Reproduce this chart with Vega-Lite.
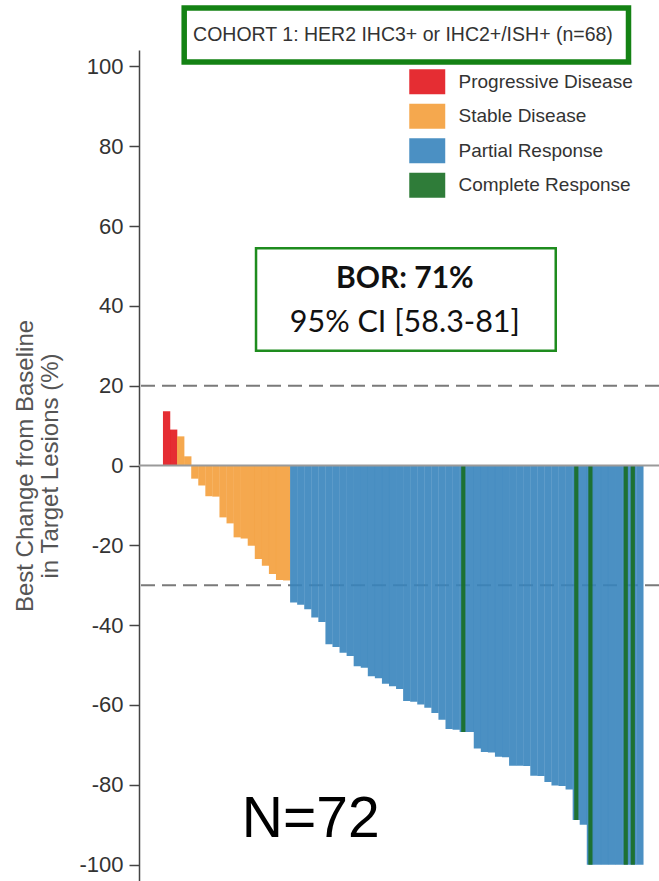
{
  "$schema": "https://vega.github.io/schema/vega-lite/v6.json",
  "width": 520,
  "height": 831,
  "autosize": {"type": "none"},
  "padding": {"left": 139, "top": 50, "right": 0, "bottom": 0},
  "background": "white",
  "config": {"view": {"stroke": null}, "font": "Liberation Sans"},
  "data": {"values": [
    {"patient": 1, "change": 13.6, "response": "Progressive Disease"},
    {"patient": 2, "change": 9.0, "response": "Progressive Disease"},
    {"patient": 3, "change": 7.3, "response": "Stable Disease"},
    {"patient": 4, "change": 2.3, "response": "Stable Disease"},
    {"patient": 5, "change": -3.3, "response": "Stable Disease"},
    {"patient": 6, "change": -5.0, "response": "Stable Disease"},
    {"patient": 7, "change": -7.7, "response": "Stable Disease"},
    {"patient": 8, "change": -7.8, "response": "Stable Disease"},
    {"patient": 9, "change": -13.0, "response": "Stable Disease"},
    {"patient": 10, "change": -14.5, "response": "Stable Disease"},
    {"patient": 11, "change": -18.0, "response": "Stable Disease"},
    {"patient": 12, "change": -18.3, "response": "Stable Disease"},
    {"patient": 13, "change": -20.1, "response": "Stable Disease"},
    {"patient": 14, "change": -23.4, "response": "Stable Disease"},
    {"patient": 15, "change": -25.1, "response": "Stable Disease"},
    {"patient": 16, "change": -27.2, "response": "Stable Disease"},
    {"patient": 17, "change": -28.7, "response": "Stable Disease"},
    {"patient": 18, "change": -28.8, "response": "Stable Disease"},
    {"patient": 19, "change": -34.3, "response": "Partial Response"},
    {"patient": 20, "change": -34.9, "response": "Partial Response"},
    {"patient": 21, "change": -36.0, "response": "Partial Response"},
    {"patient": 22, "change": -38.1, "response": "Partial Response"},
    {"patient": 23, "change": -39.2, "response": "Partial Response"},
    {"patient": 24, "change": -44.8, "response": "Partial Response"},
    {"patient": 25, "change": -45.5, "response": "Partial Response"},
    {"patient": 26, "change": -46.9, "response": "Partial Response"},
    {"patient": 27, "change": -47.7, "response": "Partial Response"},
    {"patient": 28, "change": -50.3, "response": "Partial Response"},
    {"patient": 29, "change": -50.7, "response": "Partial Response"},
    {"patient": 30, "change": -52.8, "response": "Partial Response"},
    {"patient": 31, "change": -53.3, "response": "Partial Response"},
    {"patient": 32, "change": -54.7, "response": "Partial Response"},
    {"patient": 33, "change": -55.3, "response": "Partial Response"},
    {"patient": 34, "change": -56.0, "response": "Partial Response"},
    {"patient": 35, "change": -59.0, "response": "Partial Response"},
    {"patient": 36, "change": -59.2, "response": "Partial Response"},
    {"patient": 37, "change": -59.9, "response": "Partial Response"},
    {"patient": 38, "change": -60.7, "response": "Partial Response"},
    {"patient": 39, "change": -62.0, "response": "Partial Response"},
    {"patient": 40, "change": -63.7, "response": "Partial Response"},
    {"patient": 41, "change": -66.0, "response": "Partial Response"},
    {"patient": 42, "change": -66.2, "response": "Partial Response"},
    {"patient": 43, "change": -66.8, "response": "Complete Response"},
    {"patient": 44, "change": -66.8, "response": "Partial Response"},
    {"patient": 45, "change": -70.9, "response": "Partial Response"},
    {"patient": 46, "change": -71.8, "response": "Partial Response"},
    {"patient": 47, "change": -71.9, "response": "Partial Response"},
    {"patient": 48, "change": -73.0, "response": "Partial Response"},
    {"patient": 49, "change": -73.1, "response": "Partial Response"},
    {"patient": 50, "change": -75.2, "response": "Partial Response"},
    {"patient": 51, "change": -75.2, "response": "Partial Response"},
    {"patient": 52, "change": -75.3, "response": "Partial Response"},
    {"patient": 53, "change": -77.7, "response": "Partial Response"},
    {"patient": 54, "change": -77.8, "response": "Partial Response"},
    {"patient": 55, "change": -79.3, "response": "Partial Response"},
    {"patient": 56, "change": -80.2, "response": "Partial Response"},
    {"patient": 57, "change": -80.3, "response": "Partial Response"},
    {"patient": 58, "change": -81.2, "response": "Partial Response"},
    {"patient": 59, "change": -88.8, "response": "Complete Response"},
    {"patient": 60, "change": -90.0, "response": "Partial Response"},
    {"patient": 61, "change": -100.0, "response": "Complete Response"},
    {"patient": 62, "change": -100.0, "response": "Partial Response"},
    {"patient": 63, "change": -100.0, "response": "Partial Response"},
    {"patient": 64, "change": -100.0, "response": "Partial Response"},
    {"patient": 65, "change": -100.0, "response": "Partial Response"},
    {"patient": 66, "change": -100.0, "response": "Complete Response"},
    {"patient": 67, "change": -100.0, "response": "Complete Response"},
    {"patient": 68, "change": -100.0, "response": "Partial Response"}
  ]},
  "layer": [
    {
      "data": {"values": [{}]},
      "mark": {"type": "rule", "color": "#7a7a7a", "strokeWidth": 2, "strokeDash": [14, 7]},
      "encoding": {
        "y": {"datum": 20, "type": "quantitative", "scale": {"domain": [-104.1, 104.1], "nice": false, "zero": false}}
      }
    },
    {
      "data": {"values": [{}]},
      "mark": {"type": "rule", "color": "#7a7a7a", "strokeWidth": 2, "strokeDash": [14, 7]},
      "encoding": {
        "y": {"datum": -30, "type": "quantitative", "scale": {"domain": [-104.1, 104.1], "nice": false, "zero": false}}
      }
    },
    {
      "mark": {"type": "bar", "width": 7.3, "opacity": 0.9, "orient": "vertical"},
      "encoding": {
        "x": {"field": "patient", "type": "quantitative", "scale": {"domain": [-2.2, 70], "nice": false, "zero": false}, "axis": null},
        "y": {
          "field": "change", "type": "quantitative",
          "scale": {"domain": [-104.1, 104.1], "nice": false, "zero": false},
          "title": ["Best Change from Baseline", "in Target Lesions (%)"],
          "axis": {
            "values": [-100, -80, -60, -40, -20, 0, 20, 40, 60, 80, 100],
            "labelExpr": "'' + datum.value",
            "grid": false,
            "domainColor": "#444444", "domainWidth": 1.5,
            "tickColor": "#444444", "tickWidth": 1.5, "tickSize": 10,
            "labelFont": "Liberation Sans", "labelFontSize": 22, "labelColor": "#333333", "labelPadding": 6,
            "titleFont": "Liberation Sans", "titleFontSize": 24, "titleFontWeight": "normal", "titleColor": "#555555",
            "titlePadding": 16, "titleLineHeight": 25
          }
        },
        "y2": {"datum": 0},
        "color": {
          "condition": {"test": "datum.response === 'Complete Response'", "value": "#3784BD"},
          "field": "response", "type": "nominal",
          "scale": {"domain": ["Progressive Disease", "Stable Disease", "Partial Response", "Complete Response"], "range": ["#E2161D", "#F49F3B", "#3784BD", "#186E24"]},
          "legend": {
            "title": null, "orient": "none", "legendX": 270.75, "legendY": 14.25,
            "symbolType": "M-1.043,-0.725H1.043V0.725H-1.043Z", "symbolSize": 1190, "symbolStrokeWidth": 0, "symbolOpacity": 0.9,
            "labelFont": "Liberation Sans", "labelFontSize": 19, "labelColor": "#333333", "labelOffset": 13.75,
            "rowPadding": 3.5, "padding": 0, "labelLimit": 300
          }
        }
      }
    },
    {
      "transform": [{"filter": "datum.response === 'Complete Response'"}],
      "mark": {"type": "bar", "width": 4.2, "opacity": 0.9, "orient": "vertical"},
      "encoding": {
        "x": {"field": "patient", "type": "quantitative", "scale": {"domain": [-2.2, 70], "nice": false, "zero": false}, "axis": null},
        "y": {"field": "change", "type": "quantitative", "scale": {"domain": [-104.1, 104.1], "nice": false, "zero": false}, "title": ["Best Change from Baseline", "in Target Lesions (%)"]},
        "y2": {"datum": 0},
        "color": {
          "field": "response", "type": "nominal",
          "scale": {"domain": ["Progressive Disease", "Stable Disease", "Partial Response", "Complete Response"], "range": ["#E2161D", "#F49F3B", "#3784BD", "#186E24"]},
          "legend": {
            "title": null, "orient": "none", "legendX": 270.75, "legendY": 14.25,
            "symbolType": "M-1.043,-0.725H1.043V0.725H-1.043Z", "symbolSize": 1190, "symbolStrokeWidth": 0, "symbolOpacity": 0.9,
            "labelFont": "Liberation Sans", "labelFontSize": 19, "labelColor": "#333333", "labelOffset": 13.75,
            "rowPadding": 3.5, "padding": 0, "labelLimit": 300
          }
        }
      }
    },
    {
      "data": {"values": [{}]},
      "mark": {"type": "rule", "color": "#9a9a9a", "strokeWidth": 2},
      "encoding": {
        "y": {"datum": 0, "type": "quantitative", "scale": {"domain": [-104.1, 104.1], "nice": false, "zero": false}}
      }
    },
    {
      "data": {"values": [{}]},
      "mark": {"type": "rect", "fill": null, "stroke": "#148214", "strokeWidth": 5.5},
      "encoding": {
        "x": {"datum": 3.49, "type": "quantitative", "scale": {"domain": [-2.2, 70], "nice": false, "zero": false}, "axis": null},
        "x2": {"datum": 66.39},
        "y": {"datum": 114.6, "type": "quantitative", "scale": {"domain": [-104.1, 104.1], "nice": false, "zero": false}},
        "y2": {"datum": 101.1}
      }
    },
    {
      "data": {"values": [{}]},
      "mark": {"type": "text", "text": "COHORT 1: HER2 IHC3+ or IHC2+/ISH+ (n=68)", "font": "Liberation Sans", "fontSize": 19.5, "color": "#333333", "align": "center", "baseline": "middle"},
      "encoding": {
        "x": {"datum": 34.46, "type": "quantitative", "scale": {"domain": [-2.2, 70], "nice": false, "zero": false}, "axis": null},
        "y": {"datum": 107.86, "type": "quantitative", "scale": {"domain": [-104.1, 104.1], "nice": false, "zero": false}}
      }
    },
    {
      "data": {"values": [{}]},
      "mark": {"type": "rect", "fill": null, "stroke": "#1e8c1e", "strokeWidth": 2.5},
      "encoding": {
        "x": {"datum": 13.66, "type": "quantitative", "scale": {"domain": [-2.2, 70], "nice": false, "zero": false}, "axis": null},
        "x2": {"datum": 56.09},
        "y": {"datum": 54.44, "type": "quantitative", "scale": {"domain": [-104.1, 104.1], "nice": false, "zero": false}},
        "y2": {"datum": 28.74}
      }
    },
    {
      "data": {"values": [{}]},
      "mark": {"type": "text", "text": "BOR: 71%", "font": "Lato", "fontWeight": "bold", "fontSize": 30, "color": "#111111", "align": "center", "baseline": "alphabetic"},
      "encoding": {
        "x": {"datum": 34.73, "type": "quantitative", "scale": {"domain": [-2.2, 70], "nice": false, "zero": false}, "axis": null},
        "y": {"datum": 44.47, "type": "quantitative", "scale": {"domain": [-104.1, 104.1], "nice": false, "zero": false}}
      }
    },
    {
      "data": {"values": [{}]},
      "mark": {"type": "text", "text": "95% CI [58.3-81]", "font": "Lato", "fontSize": 30.5, "color": "#111111", "align": "center", "baseline": "alphabetic"},
      "encoding": {
        "x": {"datum": 34.73, "type": "quantitative", "scale": {"domain": [-2.2, 70], "nice": false, "zero": false}, "axis": null},
        "y": {"datum": 33.45, "type": "quantitative", "scale": {"domain": [-104.1, 104.1], "nice": false, "zero": false}}
      }
    },
    {
      "data": {"values": [{}]},
      "mark": {"type": "text", "text": "N=72", "font": "Liberation Sans", "fontSize": 57, "color": "#000000", "align": "center", "baseline": "alphabetic"},
      "encoding": {
        "x": {"datum": 21.4, "type": "quantitative", "scale": {"domain": [-2.2, 70], "nice": false, "zero": false}, "axis": null},
        "y": {"datum": -93.0, "type": "quantitative", "scale": {"domain": [-104.1, 104.1], "nice": false, "zero": false}}
      }
    }
  ]
}
